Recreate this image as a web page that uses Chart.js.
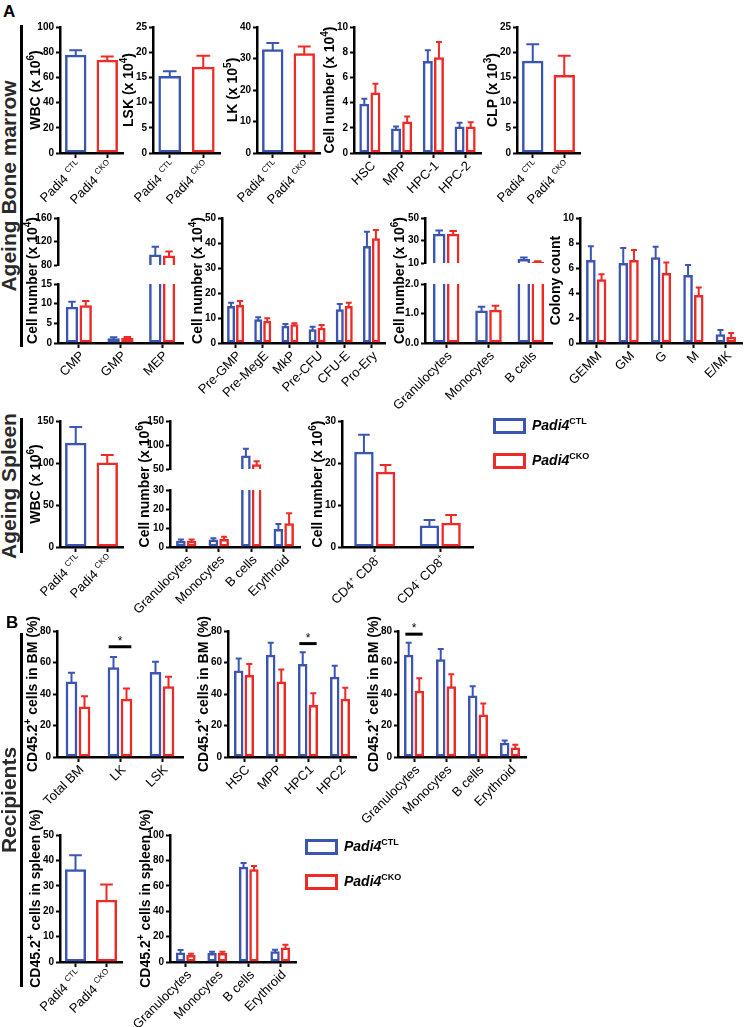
<!DOCTYPE html>
<html>
<head>
<meta charset="utf-8">
<script src="https://cdn.jsdelivr.net/npm/chart.js@4.4.1/dist/chart.umd.min.js"></script>
<style>
  body { margin: 0; background: #fff; }
  #fig { position: relative; width: 746px; height: 1027px; overflow: hidden; font-family: "Liberation Sans", Arial, sans-serif; }
  #fig canvas { position: absolute; }
  .sec { position: absolute; font-weight: bold; font-size: 17px; color: #000; }
  .rot { position: absolute; width: 300px; height: 24px; line-height: 24px; text-align: center; transform: rotate(-90deg); font-weight: bold; font-size: 21px; color: #2a2a2a; white-space: nowrap; }
  .vl { position: absolute; width: 3px; background: #000; }
  .lbox { position: absolute; width: 27px; height: 10px; border: 3px solid; }
  .ltxt { position: absolute; font: italic bold 14px "Liberation Sans", Arial, sans-serif; white-space: nowrap; }
  .ltxt sup { font-size: 9px; font-style: normal; vertical-align: 6px; line-height: 0; }
</style>
</head>
<body>
<div id="fig"></div>
<script>
const BLUE = '#3b56b2', RED = '#ee2a27';
const seriesNames = ['Padi4^{CTL}', 'Padi4^{CKO}'];
const genotypes = ['Padi4 ^{CTL}', 'Padi4 ^{CKO}'];

// A - ageing bone marrow, row 1
const bmWbc = [78, 74], bmWbcErr = [3.5, 2.5];
const bmLsk = [15.3, 17.1], bmLskErr = [0.9, 2.2];
const bmLk = [32.9, 31.7], bmLkErr = [2, 2.1];
const stemCats = ['HSC', 'MPP', 'HPC-1', 'HPC-2'];
const stemCtl = [3.9, 1.95, 7.3, 2.1], stemCtlErr = [0.4, 0.15, 0.85, 0.3];
const stemCko = [4.8, 2.5, 7.6, 2.1], stemCkoErr = [0.7, 0.4, 1.2, 0.35];
const clp = [18.3, 15.5], clpErr = [3.3, 3.8];

// row 2
const progCats = ['CMP', 'GMP', 'MEP'];
const progCtl = [9.2, 1.2, 98], progCtlErr = [1.3, 0.25, 13];
const progCko = [9.6, 1.3, 96], progCkoErr = [1.1, 0.2, 7];
const preCats = ['Pre-GMP', 'Pre-MegE', 'MkP', 'Pre-CFU', 'CFU-E', 'Pro-Ery'];
const preCtl = [14.8, 9.5, 6.9, 5.5, 13.5, 38.8], preCtlErr = [1.3, 0.8, 0.7, 1.0, 2.1, 5.7];
const preCko = [15.2, 8.9, 7.5, 6.1, 14.8, 41.9], preCkoErr = [1.6, 1.0, 0.4, 1.1, 1.3, 3.3];
const myeCats = ['Granulocytes', 'Monocytes', 'B cells'];
const myeCtl = [36, 1.1, 13.5], myeCtlErr = [2.8, 0.13, 1.3];
const myeCko = [36, 1.13, 11], myeCkoErr = [2.5, 0.13, 0.6];
const colCats = ['GEMM', 'GM', 'G', 'M', 'E/MK'];
const colCtl = [6.64, 6.4, 6.86, 5.44, 0.7], colCtlErr = [1.1, 1.2, 0.85, 0.8, 0.35];
const colCko = [5.1, 6.64, 5.6, 3.84, 0.5], colCkoErr = [0.4, 0.8, 0.85, 0.6, 0.3];

// ageing spleen
const spWbc = [124, 100.5], spWbcErr = [19, 9];
const spCats = ['Granulocytes', 'Monocytes', 'B cells', 'Erythroid'];
const spCtl = [3.3, 4.0, 78, 9.5], spCtlErr = [0.7, 0.6, 14, 2.6];
const spCko = [3.3, 4.2, 60, 12.5], spCkoErr = [0.6, 1.2, 6, 5.2];
const tCats = ['CD4^{+} CD8^{-}', 'CD4^{-} CD8^{+}'];
const tCtl = [22.7, 5.1], tCtlErr = [4, 1.3];
const tCko = [17.9, 5.8], tCkoErr = [1.6, 1.8];

// B - recipients
const engCats = ['Total BM', 'LK', 'LSK'];
const engCtl = [48, 57, 54], engCtlErr = [5.5, 6.5, 6.5];
const engCko = [32, 37, 45], engCkoErr = [6.5, 6.5, 6];
const engStemCats = ['HSC', 'MPP', 'HPC1', 'HPC2'];
const engStemCtl = [55, 65, 59, 51], engStemCtlErr = [7.5, 7.5, 7.5, 7];
const engStemCko = [52, 48, 33, 37], engStemCkoErr = [7, 7.5, 7.5, 7];
const engMatCats = ['Granulocytes', 'Monocytes', 'B cells', 'Erythroid'];
const engMatCtl = [65, 62, 39, 9], engMatCtlErr = [7.5, 6.5, 6, 1.5];
const engMatCko = [42, 45, 27, 6], engMatCkoErr = [8, 7.5, 7, 1.8];
const engSpl = [36.5, 24.5], engSplErr = [5.5, 6];
const engSpCats = ['Granulocytes', 'Monocytes', 'B cells', 'Erythroid'];
const engSpCtl = [7.5, 7, 75, 8.5], engSpCtlErr = [2, 1, 3, 1.2];
const engSpCko = [5.5, 7, 73, 11.5], engSpCkoErr = [1, 1, 2.5, 2];

const FONT = '"Liberation Sans", Arial, sans-serif';
const fig = document.getElementById('fig');

function parseRich(s) {
  const parts = [], re = /\^\{([^}]*)\}/g;
  let last = 0, m;
  while ((m = re.exec(s))) {
    if (m.index > last) parts.push({t: s.slice(last, m.index)});
    parts.push({t: m[1], sup: true});
    last = re.lastIndex;
  }
  if (last < s.length) parts.push({t: s.slice(last)});
  return parts;
}

function drawRich(ctx, s, size, weight, align, sc, rise) {
  const parts = parseRich(s);
  const fonts = parts.map(p => `${weight} ${p.sup ? Math.round(size * sc) : size}px ${FONT}`);
  let total = 0;
  const widths = parts.map((p, i) => { ctx.font = fonts[i]; const w = ctx.measureText(p.t).width; total += w; return w; });
  let x = align === 'right' ? -total : align === 'center' ? -total / 2 : 0;
  ctx.textAlign = 'left';
  ctx.textBaseline = 'alphabetic';
  const base = size * 0.36;
  parts.forEach((p, i) => {
    ctx.font = fonts[i];
    ctx.fillText(p.t, x, p.sup ? base - size * rise : base);
    x += widths[i];
  });
}

function decor(o, offX, offY) {
  return {
    id: 'decor',
    afterDatasetsDraw(chart) {
      const ctx = chart.ctx, a = chart.chartArea, ys = chart.scales.y;
      ctx.save();
      ctx.beginPath();
      ctx.rect(a.left, a.top, a.right - a.left, a.bottom - a.top);
      ctx.clip();
      chart.data.datasets.forEach((ds, di) => {
        chart.getDatasetMeta(di).data.forEach((bar, i) => {
          const v = ds.data[i], e = ds.err[i];
          const y0 = ys.getPixelForValue(v) + 1, y1 = ys.getPixelForValue(v + e);
          const cap = Math.max(6, bar.width * 0.6);
          ctx.strokeStyle = bar.options.borderColor;
          ctx.lineWidth = 2;
          ctx.beginPath();
          ctx.moveTo(bar.x, y0); ctx.lineTo(bar.x, y1);
          ctx.moveTo(bar.x - cap / 2, y1); ctx.lineTo(bar.x + cap / 2, y1);
          ctx.stroke();
        });
      });
      ctx.restore();
      (o.sig || []).forEach(s => {
        const xs = chart.scales.x, px = xs.getPixelForValue(s.i);
        const half = (a.right - a.left) / o.labels.length * 0.27;
        const py = ys.getPixelForValue(s.v);
        ctx.save();
        ctx.strokeStyle = '#000'; ctx.lineWidth = 3;
        ctx.beginPath(); ctx.moveTo(px - half, py); ctx.lineTo(px + half, py); ctx.stroke();
        ctx.fillStyle = '#000'; ctx.font = `12px ${FONT}`;
        ctx.textAlign = 'center'; ctx.textBaseline = 'alphabetic';
        ctx.fillText('*', px, py - 2);
        ctx.restore();
      });
    },
    afterDraw(chart) {
      const ctx = chart.ctx, a = chart.chartArea;
      ctx.fillStyle = '#000';
      if (!o.noX) {
        const xs = chart.scales.x;
        o.labels.forEach((lab, i) => {
          ctx.save();
          ctx.translate(xs.getPixelForValue(i) + 3, a.bottom + 10);
          ctx.rotate(-Math.PI / 4);
          drawRich(ctx, lab, 13, 'normal', 'right', 0.65, 0.4);
          ctx.restore();
        });
      }
      if (o.title) {
        ctx.save();
        ctx.translate(o.title.cx - offX, o.title.cy - offY);
        ctx.rotate(-Math.PI / 2);
        drawRich(ctx, o.title.text, 14, 'bold', 'center', 0.7, 0.42);
        ctx.restore();
      }
    }
  };
}

function panel(o) {
  const padL = 48, padR = 6;
  const padT = o.padT != null ? o.padT : 40;
  const padB = o.noX ? 0 : 95;
  const offX = o.x - padL, offY = o.y - padT;
  const cv = document.createElement('canvas');
  cv.width = o.w + padL + padR;
  cv.height = o.h + padT + padB;
  cv.style.left = offX + 'px';
  cv.style.top = offY + 'px';
  fig.appendChild(cv);
  if (typeof o.title === 'string') o.title = {text: o.title, cx: o.x - 25, cy: o.y + o.h / 2};
  const single = o.series.length === 1;
  new Chart(cv, {
    type: 'bar',
    data: {
      labels: o.labels,
      datasets: o.series.map(s => ({
        data: s.data, err: s.err,
        borderColor: s.color, backgroundColor: 'rgba(255,255,255,0)',
        borderWidth: 2.5, borderSkipped: false,
        barPercentage: single ? 0.68 : 0.9,
        categoryPercentage: single ? 1 : (o.cat || 0.66),
        clip: {left: false, right: false, top: 0, bottom: 0}
      }))
    },
    options: {
      responsive: false, animation: false, events: [],
      layout: {padding: {top: padT, right: padR, left: 0, bottom: 0}},
      plugins: {legend: {display: false}, tooltip: {enabled: false}},
      scales: {
        x: {
          display: !o.noX, z: 1, offset: true,
          grid: {display: true, offset: false, drawOnChartArea: false, tickLength: 5, tickWidth: 2, tickColor: '#000', color: '#000'},
          border: {display: true, color: '#000', width: 2.5},
          ticks: {display: false, autoSkip: false},
          afterFit(s) { s.height = padB; }
        },
        y: {
          min: o.min, max: o.max, z: 1,
          grid: {display: true, drawOnChartArea: false, tickLength: 4, tickWidth: 2, tickColor: '#000', color: '#000'},
          border: {display: true, color: '#000', width: 2.5},
          ticks: {stepSize: o.step, color: '#000', padding: 2, font: {family: FONT, size: 10, weight: 'bold'},
                  callback: o.fmt || (v => v)},
          afterFit(s) { s.width = padL; }
        }
      }
    },
    plugins: [decor(o, offX, offY)]
  });
}

function broken(o) {
  panel(Object.assign({}, o, o.up, {noX: true, title: null, padT: 12}));
  panel(Object.assign({}, o, o.lo, {
    padT: o.lo.y - o.up.y + 40,
    title: {text: o.title, cx: o.x - 26, cy: (o.up.y + o.lo.y + o.lo.h) / 2}
  }));
}

function pair(v, e) { return [{data: v, err: e, color: [BLUE, RED]}]; }
function groups(c, ce, k, ke) { return [{data: c, err: ce, color: BLUE}, {data: k, err: ke, color: RED}]; }

function sec(t, x, y) {
  const d = document.createElement('div');
  d.className = 'sec'; d.textContent = t;
  d.style.left = x + 'px'; d.style.top = y + 'px';
  fig.appendChild(d);
}
function side(t, cx, cy, y1, y2) {
  const d = document.createElement('div');
  d.className = 'rot'; d.textContent = t;
  d.style.left = (cx - 150) + 'px'; d.style.top = (cy - 12) + 'px';
  fig.appendChild(d);
  const l = document.createElement('div');
  l.className = 'vl';
  l.style.left = '20px'; l.style.top = y1 + 'px'; l.style.height = (y2 - y1) + 'px';
  fig.appendChild(l);
}
function legend(x, y) {
  seriesNames.forEach((n, k) => {
    const b = document.createElement('div');
    b.className = 'lbox';
    b.style.left = x + 'px'; b.style.top = (y + k * 35) + 'px';
    b.style.borderColor = [BLUE, RED][k];
    fig.appendChild(b);
    const t = document.createElement('div');
    t.className = 'ltxt';
    t.style.left = (x + 39) + 'px'; t.style.top = (y + k * 35 - 1) + 'px';
    t.innerHTML = n.replace(/\^\{([^}]*)\}/g, '<sup>$1</sup>');
    fig.appendChild(t);
  });
}

// A
sec('A', 3, 2);
side('Ageing Bone marrow', 9, 186, 25, 347);
side('Ageing Spleen', 9, 486, 418, 553);
panel({x: 60, y: 27, w: 63, h: 126, labels: genotypes, series: pair(bmWbc, bmWbcErr), min: 0, max: 100, step: 20, title: 'WBC (x 10^{6})'});
panel({x: 153, y: 27, w: 67, h: 126, labels: genotypes, series: pair(bmLsk, bmLskErr), min: 0, max: 25, step: 5, title: 'LSK (x 10^{4})'});
panel({x: 257, y: 27, w: 63, h: 126, labels: genotypes, series: pair(bmLk, bmLkErr), min: 0, max: 40, step: 10, title: 'LK (x 10^{5})'});
panel({x: 354, y: 27, w: 127, h: 126, labels: stemCats, series: groups(stemCtl, stemCtlErr, stemCko, stemCkoErr), min: 0, max: 10, step: 2, cat: 0.7, title: 'Cell number (x 10^{4})'});
panel({x: 517, y: 27, w: 63, h: 126, labels: genotypes, series: pair(clp, clpErr), min: 0, max: 25, step: 5, title: 'CLP (x 10^{3})'});

broken({x: 58, w: 125, labels: progCats, series: groups(progCtl, progCtlErr, progCko, progCkoErr),
  up: {y: 218, h: 55, min: 80, max: 160, step: 20}, lo: {y: 284, h: 59, min: 0, max: 15, step: 5},
  title: 'Cell number (x 10^{4})'});
panel({x: 222, y: 218, w: 163, h: 125, labels: preCats, series: groups(preCtl, preCtlErr, preCko, preCkoErr), min: 0, max: 50, step: 10, title: 'Cell number (x 10^{4})'});
broken({x: 425, w: 127, labels: myeCats, series: groups(myeCtl, myeCtlErr, myeCko, myeCkoErr),
  up: {y: 218, h: 53, min: 10, max: 50, step: 10}, lo: {y: 284, h: 59, min: 0, max: 2, step: 0.5, fmt: v => v.toFixed(1)},
  title: 'Cell number (x 10^{6})'});
panel({x: 580, y: 218, w: 162, h: 125, labels: colCats, series: groups(colCtl, colCtlErr, colCko, colCkoErr), min: 0, max: 10, step: 2, title: 'Colony count'});

panel({x: 60, y: 421, w: 63, h: 126, labels: genotypes, series: pair(spWbc, spWbcErr), min: 0, max: 150, step: 50, title: 'WBC (x 10^{6})'});
broken({x: 170, w: 130, labels: spCats, series: groups(spCtl, spCtlErr, spCko, spCkoErr),
  up: {y: 421, h: 56, min: 50, max: 150, step: 50}, lo: {y: 490, h: 57, min: 0, max: 30, step: 10},
  title: 'Cell number (x 10^{6})'});
panel({x: 342, y: 421, w: 131, h: 126, labels: tCats, series: groups(tCtl, tCtlErr, tCko, tCkoErr), min: 0, max: 30, step: 10, title: 'Cell number (x 10^{6})'});
legend(493, 418);

// B
sec('B', 6, 613);
side('Recipients', 9, 800, 633, 987);
panel({x: 57, y: 631, w: 126, h: 126, labels: engCats, series: groups(engCtl, engCtlErr, engCko, engCkoErr), min: 0, max: 80, step: 20, cat: 0.62,
  title: 'CD45.2^{+} cells in BM (%)', sig: [{i: 1, v: 70}]});
panel({x: 228, y: 631, w: 128, h: 126, labels: engStemCats, series: groups(engStemCtl, engStemCtlErr, engStemCko, engStemCkoErr), min: 0, max: 80, step: 20,
  title: 'CD45.2^{+} cells in BM (%)', sig: [{i: 2, v: 72}]});
panel({x: 398, y: 631, w: 128, h: 126, labels: engMatCats, series: groups(engMatCtl, engMatCtlErr, engMatCko, engMatCkoErr), min: 0, max: 80, step: 20,
  title: 'CD45.2^{+} cells in BM (%)', sig: [{i: 0, v: 78}]});
panel({x: 60, y: 835, w: 62, h: 127, labels: genotypes, series: pair(engSpl, engSplErr), min: 0, max: 50, step: 10, title: 'CD45.2^{+} cells in spleen (%)'});
panel({x: 170, y: 835, w: 126, h: 127, labels: engSpCats, series: groups(engSpCtl, engSpCtlErr, engSpCko, engSpCkoErr), min: 0, max: 100, step: 20, title: 'CD45.2^{+} cells in spleen (%)'});
legend(305, 839);
</script>
</body>
</html>
